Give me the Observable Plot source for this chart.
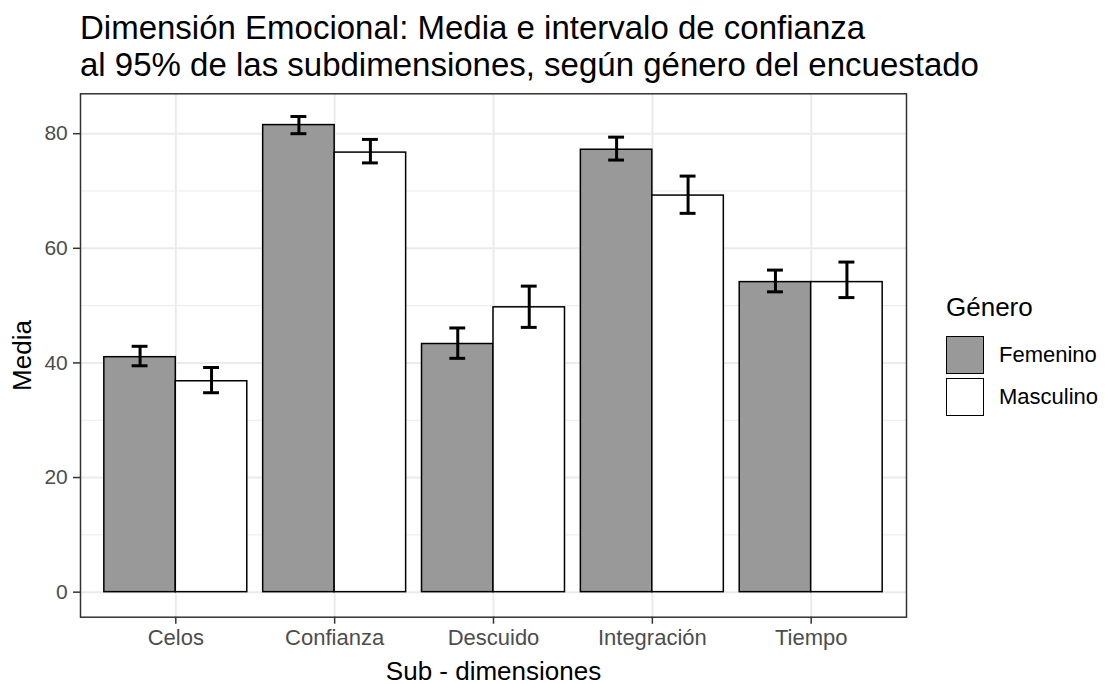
<!DOCTYPE html>
<html>
<head>
<meta charset="utf-8">
<script src="https://cdn.jsdelivr.net/npm/d3@7"></script>
<script src="https://cdn.jsdelivr.net/npm/@observablehq/plot@0.6"></script>
<style>
  body { margin: 0; background: white; }
  #wrap { position: relative; width: 1107px; height: 684px; font-family: "Liberation Sans", Arial, sans-serif; background: white; }
  #title { position: absolute; left: 80px; top: 9px; font-size: 33px; line-height: 37px; color: #000; white-space: nowrap; }
  #chart { position: absolute; left: 0; top: 85px; }
  #legend { position: absolute; left: 946px; top: 292px; color: #000; }
  #legend .lt { font-size: 26px; line-height: 30px; margin-bottom: 12px; }
  #legend .item { display: flex; align-items: center; height: 42px; }
  #legend .key { width: 38px; height: 38px; box-sizing: border-box; border: 1.5px solid #000; }
  #legend .lab { font-size: 22px; margin-left: 15px; }
</style>
</head>
<body>
<div id="wrap">
  <div id="title"></div>
  <div id="chart"></div>
  <div id="legend"></div>
</div>
<script>
// ---- data ----
const titleLines = ["Dimensión Emocional: Media e intervalo de confianza", "al 95% de las subdimensiones, según género del encuestado"];
const categories = ["Celos", "Confianza", "Descuido", "Integración", "Tiempo"];
const genders = ["Femenino", "Masculino"];
const mediaFemenino  = [41.0, 81.5, 43.3, 77.2, 54.1];
const mediaMasculino = [36.8, 76.7, 49.7, 69.2, 54.1];
const lowFemenino    = [39.5, 80.0, 40.8, 75.4, 52.4];
const highFemenino   = [42.9, 83.0, 46.1, 79.4, 56.2];
const lowMasculino   = [34.8, 74.9, 46.2, 66.1, 51.4];
const highMasculino  = [39.2, 79.0, 53.4, 72.6, 57.6];
const yTicks = [0, 20, 40, 60, 80];
const yMinor = [10, 30, 50, 70];
const xLabel = "Sub - dimensiones";
const yLabel = "Media";
const legendTitle = "Género";
const fills = ["#999999", "#ffffff"];

// ---- dodge layout (like ggplot position_dodge, width 0.9) ----
const rows = [];
categories.forEach((c, i) => {
  genders.forEach((g, j) => {
    const media = j ? mediaMasculino[i] : mediaFemenino[i];
    const lo = j ? lowMasculino[i] : lowFemenino[i];
    const hi = j ? highMasculino[i] : highFemenino[i];
    const x1 = (i + 1) - 0.45 + j * 0.45;
    const xc = x1 + 0.225;
    rows.push({categoria: c, genero: g, media, lo, hi, x1, x2: x1 + 0.45, xc, c1: xc - 0.05, c2: xc + 0.05});
  });
});
const catPos = categories.map((c, i) => i + 1);

document.getElementById("title").innerHTML = titleLines.join("<br>");

const chart = Plot.plot({
  width: 1107,
  height: 599,
  marginTop: 8.3,
  marginBottom: 67.3,
  marginLeft: 80,
  marginRight: 201,
  style: {fontFamily: "'Liberation Sans', Arial, sans-serif", background: "white", overflow: "visible"},
  x: {type: "linear", domain: [0.4, 5.6]},
  y: {domain: [-4.37, 86.96]},
  color: {domain: genders, range: fills},
  marks: [
    Plot.ruleY(yMinor, {stroke: "#EBEBEB", strokeWidth: 1}),
    Plot.ruleY(yTicks, {stroke: "#EBEBEB", strokeWidth: 2}),
    Plot.ruleX(catPos, {stroke: "#EBEBEB", strokeWidth: 2}),
    Plot.rect(rows, {x1: "x1", x2: "x2", y1: 0, y2: "media", fill: "genero", stroke: "black", strokeWidth: 1.5}),
    Plot.ruleX(rows, {x: "xc", y1: "lo", y2: "hi", stroke: "black", strokeWidth: 3}),
    Plot.ruleY(rows, {y: "lo", x1: "c1", x2: "c2", stroke: "black", strokeWidth: 3}),
    Plot.ruleY(rows, {y: "hi", x1: "c1", x2: "c2", stroke: "black", strokeWidth: 3}),
    Plot.frame({stroke: "#333333", strokeWidth: 1.5}),
    Plot.axisY({ticks: yTicks, tickSize: 7, tickPadding: 5.7, fontSize: 21, fill: "#4d4d4d", stroke: "#333333", strokeWidth: 1.5, label: null}),
    Plot.axisX({ticks: catPos, tickFormat: d => categories[d - 1], tickSize: 7, tickPadding: 5.2, fontSize: 22, fill: "#4d4d4d", stroke: "#333333", strokeWidth: 1.5, label: null}),
    Plot.text([yLabel], {text: d => d, frameAnchor: "left", textAnchor: "middle", lineAnchor: "middle", dx: -58, rotate: -90, fontSize: 26, fill: "black"}),
    Plot.text([xLabel], {text: d => d, frameAnchor: "bottom", textAnchor: "middle", lineAnchor: "middle", dy: 54, fontSize: 26, fill: "black"})
  ]
});
document.getElementById("chart").appendChild(chart);

// ---- legend ----
const legend = document.getElementById("legend");
const lt = document.createElement("div");
lt.className = "lt";
lt.textContent = legendTitle;
legend.appendChild(lt);
genders.forEach((g, j) => {
  const item = document.createElement("div");
  item.className = "item";
  const key = document.createElement("div");
  key.className = "key";
  key.style.background = fills[j];
  const lab = document.createElement("span");
  lab.className = "lab";
  lab.textContent = g;
  item.appendChild(key);
  item.appendChild(lab);
  legend.appendChild(item);
});
</script>
</body>
</html>
